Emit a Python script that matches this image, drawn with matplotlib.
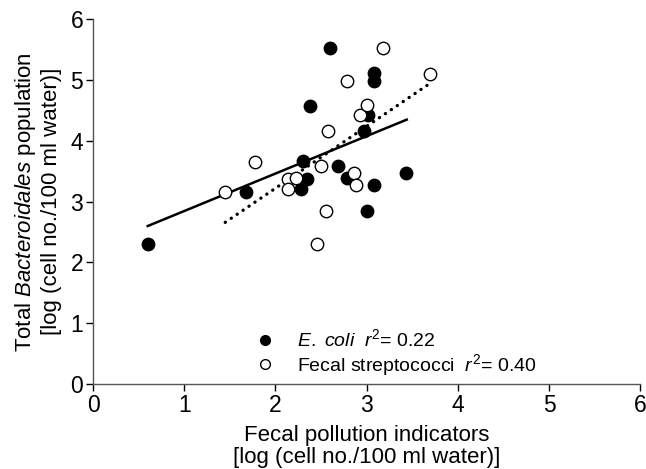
import numpy as np
import matplotlib
matplotlib.use("Agg")
import matplotlib.pyplot as plt
from matplotlib.lines import Line2D

plt.rcParams['font.family'] = ['Liberation Sans', 'DejaVu Sans']
plt.rcParams['mathtext.fontset'] = 'custom'
plt.rcParams['mathtext.rm'] = 'Liberation Sans'
plt.rcParams['mathtext.it'] = 'Liberation Sans:italic'

# E. coli (filled)
ecoli_x = [0.60, 1.68, 2.30, 2.28, 2.35, 2.38, 2.60, 2.69, 2.78, 2.97, 3.01, 3.00, 3.08, 3.08, 3.08, 3.43]
ecoli_y = [2.31, 3.16, 3.67, 3.21, 3.37, 4.58, 5.53, 3.58, 3.39, 4.17, 4.42, 2.84, 3.28, 5.12, 4.98, 3.47]
# Fecal streptococci (open)
fs_x = [1.45, 1.78, 2.14, 2.14, 2.23, 2.50, 2.58, 2.55, 2.46, 2.79, 2.86, 2.88, 2.93, 3.00, 3.18, 3.69]
fs_y = [3.16, 3.66, 3.37, 3.21, 3.39, 3.58, 4.17, 2.84, 2.31, 4.98, 3.47, 3.28, 4.42, 4.59, 5.53, 5.10]

# regression lines (slope, intercept, x-range)
ecoli_fit = (0.616, 2.23, 0.60, 3.44)
fs_fit = (1.018, 1.184, 1.45, 3.69)

ticks = [0, 1, 2, 3, 4, 5, 6]
TICK_FS = 16.5
LAB_FS = 16
LEG_FS = 14

fig = plt.figure(figsize=(6.46, 4.69), dpi=100)
ax = fig.add_axes([0.144, 0.181, 0.847, 0.778])

xs = np.array(ecoli_fit[2:])
ax.plot(xs, ecoli_fit[0] * xs + ecoli_fit[1], color='black', lw=1.8, linestyle='-', zorder=2)
xs = np.array(fs_fit[2:])
ax.plot(xs, fs_fit[0] * xs + fs_fit[1], color='black', lw=2.4, linestyle=(0, (0.05, 2.1)),
        dash_capstyle='round', zorder=2)

ax.scatter(ecoli_x, ecoli_y, s=80, facecolor='black', edgecolor='black', lw=1, zorder=3)
ax.scatter(fs_x, fs_y, s=80, facecolor='white', edgecolor='black', lw=1, zorder=4)

ax.set_xlim(0, 6)
ax.set_ylim(0, 6)
ax.set_xticks(ticks)
ax.set_yticks(ticks)
ax.tick_params(labelsize=TICK_FS, direction='out', length=5, width=1, colors='black', pad=2)
for s in ['top', 'right']:
    ax.spines[s].set_visible(False)
for s in ['left', 'bottom']:
    ax.spines[s].set_color('#555555')
    ax.spines[s].set_linewidth(1)

ax.set_xlabel('Fecal pollution indicators\n[log (cell no./100 ml water)]', fontsize=LAB_FS,
              labelpad=6, linespacing=1.05)
ax.set_ylabel('Total $\\mathit{Bacteroidales}$ population\n[log (cell no./100 ml water)]', fontsize=LAB_FS,
              labelpad=6, linespacing=1.2)

handles = [Line2D([], [], ls='none', marker='o', ms=7, mfc='black', mec='black'),
           Line2D([], [], ls='none', marker='o', ms=7, mfc='white', mec='black')]
labels = ['$\\mathit{E.\\ coli}$  $\\mathit{r}^2$= 0.22',
          'Fecal streptococci  $\\mathit{r}^2$= 0.40']
ax.legend(handles, labels, loc='lower left', bbox_to_anchor=(0.2645, -0.005), frameon=False,
          fontsize=LEG_FS, handletextpad=0.64, labelspacing=0.1, borderaxespad=0)

fig.savefig('out.png', dpi=100)
